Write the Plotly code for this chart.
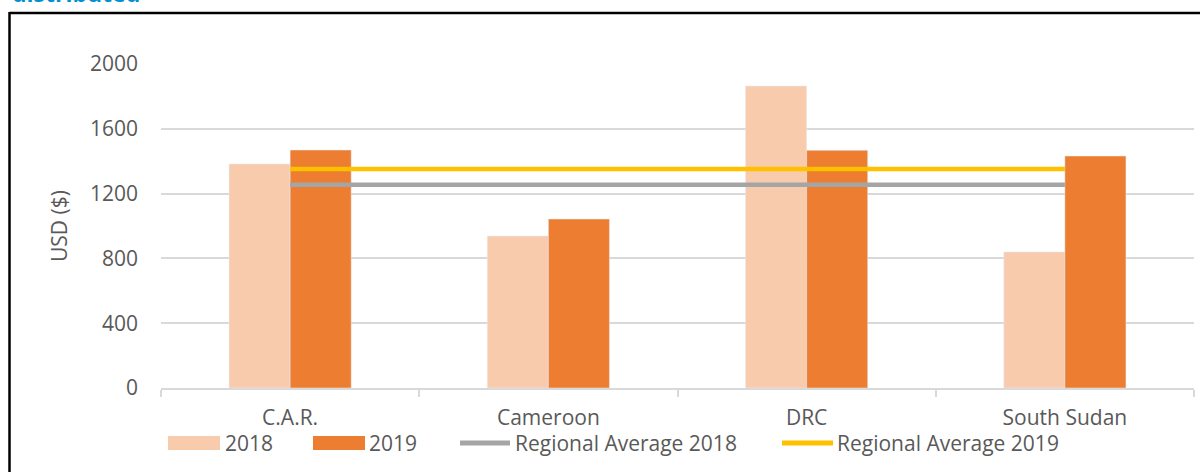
import plotly.graph_objects as go

categories = ["C.A.R.", "Cameroon", "DRC", "South Sudan"]
values_2018 = [1383, 938, 1864, 840]
values_2019 = [1469, 1043, 1467, 1432]
regional_avg_2018 = [1255, 1255, 1255, 1255]
regional_avg_2019 = [1352, 1352, 1352, 1352]
y_ticks = [0, 400, 800, 1200, 1600, 2000]
legend_labels = ["2018", "2019", "Regional Average 2018", "Regional Average 2019"]

C2018 = "#F8CBAD"
C2019 = "#ED7D31"
CGREY = "#A5A5A5"
CYEL = "#FFC000"
TXT = "#595959"
FONT = "Open Sans"

W, H = 1200, 472
L, R, T, B = 161, 6, 64, 84
PW = W - L - R
PH = H - T - B


def px(x):
    return (x - L) / PW


def py(y):
    return (H - B - y) / PH


fig = go.Figure()
fig.add_trace(go.Bar(x=categories, y=values_2018, name=legend_labels[0],
                     marker=dict(color=C2018), showlegend=False))
fig.add_trace(go.Bar(x=categories, y=values_2019, name=legend_labels[1],
                     marker=dict(color=C2019), showlegend=False))
fig.add_trace(go.Scatter(x=categories, y=regional_avg_2018, name=legend_labels[2],
                         mode="lines", line=dict(color=CGREY, width=4.5),
                         showlegend=False))
fig.add_trace(go.Scatter(x=categories, y=regional_avg_2019, name=legend_labels[3],
                         mode="lines", line=dict(color=CYEL, width=4.5),
                         showlegend=False))

shapes = []
annotations = []

# manual legend
leg_y = 443
items = [
    ("bar", C2018, 168, 220, 224),
    ("bar", C2019, 313, 365, 368),
    ("line", CGREY, 458, 512, 514),
    ("line", CYEL, 780, 835, 836),
]
for (kind, col, x0, x1, tx), lab in zip(items, legend_labels):
    if kind == "bar":
        shapes.append(dict(type="rect", xref="paper", yref="paper",
                           x0=px(x0), x1=px(x1), y0=py(leg_y + 7), y1=py(leg_y - 7),
                           fillcolor=col, line=dict(width=0)))
    else:
        shapes.append(dict(type="line", xref="paper", yref="paper",
                           x0=px(x0 + 2), x1=px(x1 - 2), y0=py(leg_y), y1=py(leg_y),
                           line=dict(color=col, width=5)))
    annotations.append(dict(text=lab, xref="paper", yref="paper", x=px(tx), y=py(leg_y),
                            xanchor="left", yanchor="middle", showarrow=False,
                            borderpad=0,
                            font=dict(family=FONT, size=21, color=TXT)))

# frame border
shapes.append(dict(type="line", xref="paper", yref="paper",
                   x0=px(9.5), x1=px(1210), y0=py(13), y1=py(13),
                   line=dict(color="black", width=2.5)))
shapes.append(dict(type="line", xref="paper", yref="paper",
                   x0=px(9.5), x1=px(9.5), y0=py(12), y1=py(480),
                   line=dict(color="black", width=2.5)))

# cropped title above the frame
annotations.append(dict(text="<b>distributed</b>", xref="paper", yref="paper",
                        x=px(10), y=py(11), xanchor="left", yanchor="bottom",
                        showarrow=False,
                        font=dict(family=FONT, size=23, color="#0091D5")))

fig.update_layout(
    width=W, height=H,
    margin=dict(l=L, r=R, t=T, b=B),
    paper_bgcolor="white", plot_bgcolor="white",
    barmode="group", bargap=0.527, bargroupgap=0,
    font=dict(family=FONT, size=21, color=TXT),
    shapes=shapes, annotations=annotations,
    showlegend=False,
)
fig.update_xaxes(
    type="category", showgrid=False, showline=True, linecolor="#D9D9D9", linewidth=2,
    ticks="outside", tickson="boundaries", ticklen=7, tickwidth=2, tickcolor="#D9D9D9",
    tickfont=dict(family=FONT, size=21, color=TXT), ticklabelstandoff=10,
)
fig.update_yaxes(
    range=[0, 2000], tickvals=y_ticks, showgrid=True, gridcolor="#D9D9D9", gridwidth=2,
    zeroline=False, showline=False, ticks="", ticklabelstandoff=22,
    tickfont=dict(family=FONT, size=21, color=TXT),
    title=dict(text="USD ($)", font=dict(family=FONT, size=21, color=TXT), standoff=16),
)

fig.write_html("out.html", config={"displayModeBar": False},
               post_script="document.body.style.margin='0';document.body.style.padding='0';")
